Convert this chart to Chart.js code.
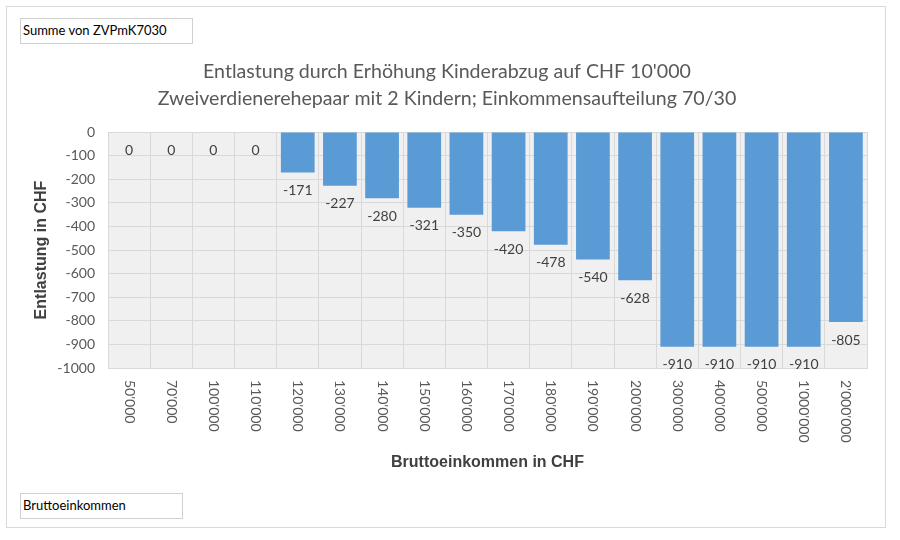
<!DOCTYPE html>
<html>
<head>
<meta charset="utf-8">
<script src="https://cdn.jsdelivr.net/npm/chart.js@4"></script>
<style>
    body { margin: 0; background: #ffffff; }
    #wrap { position: relative; width: 900px; height: 540px; }
    #frame { position: absolute; left: 6px; top: 6px; width: 880px; height: 522px; border: 1px solid #d9d9d9; box-sizing: border-box; }
    .btn { position: absolute; border: 1px solid #d0d0d0; background: #fff; font: 13px Lato, sans-serif; color: #000; padding-left: 2px; box-sizing: border-box; line-height: 23px; }
    #chart { position: absolute; left: 0; top: 0; }
</style>
</head>
<body>
<div id="wrap">
    <div id="frame"></div>
    <canvas id="chart" width="900" height="540"></canvas>
    <div class="btn" style="left:20px; top:18px; width:173px; height:26px;">Summe von ZVPmK7030</div>
    <div class="btn" style="left:20px; top:493px; width:163px; height:26px;">Bruttoeinkommen</div>
</div>
<script>
// income categories (CHF)
var incomes = ["50'000", "70'000", "100'000", "110'000", "120'000", "130'000", "140'000", "150'000",
    "160'000", "170'000", "180'000", "190'000", "200'000", "300'000", "400'000", "500'000", "1'000'000", "2'000'000"];
var relief = [0, 0, 0, 0, -171, -227, -280, -321, -350, -420, -478, -540, -628, -910, -910, -910, -910, -805];
var titleLines = ["Entlastung durch Erhöhung Kinderabzug auf CHF 10'000",
    "Zweiverdienerehepaar mit 2 Kindern; Einkommensaufteilung 70/30"];

// plot background
var plotBg = {
    id: 'plotBg',
    beforeDraw: function (chart) {
        var a = chart.chartArea, c = chart.ctx;
        c.save();
        c.fillStyle = '#f0f0f0';
        c.fillRect(a.left, a.top, a.right - a.left, a.bottom - a.top);
        c.restore();
    }
};

// value labels under each bar end
var barLabels = {
    id: 'barLabels',
    afterDatasetsDraw: function (chart) {
        var c = chart.ctx;
        var meta = chart.getDatasetMeta(0);
        c.save();
        c.font = '14px Lato, sans-serif';
        c.fillStyle = '#404040';
        c.textAlign = 'center';
        c.textBaseline = 'middle';
        meta.data.forEach(function (bar, i) {
            c.fillText(String(relief[i]), bar.x, bar.y + 18);
        });
        c.restore();
    }
};

// x tick labels rotated clockwise (read top to bottom)
var xLabels = {
    id: 'xLabels',
    afterDraw: function (chart) {
        var c = chart.ctx, sx = chart.scales.x;
        c.save();
        c.font = '14px Lato, sans-serif';
        c.fillStyle = '#595959';
        c.textAlign = 'left';
        c.textBaseline = 'middle';
        incomes.forEach(function (lbl, i) {
            c.save();
            c.translate(sx.getPixelForValue(i), sx.top + 12);
            c.rotate(Math.PI / 2);
            c.fillText(lbl, 0, 0);
            c.restore();
        });
        c.restore();
    }
};

new Chart(document.getElementById('chart').getContext('2d'), {
    type: 'bar',
    data: {
        labels: incomes,
        datasets: [{
            data: relief,
            backgroundColor: '#5b9bd5',
            categoryPercentage: 1,
            barPercentage: 0.8
        }]
    },
    options: {
        responsive: false,
        animation: false,
        layout: { padding: { left: 27, right: 33, top: 0, bottom: 0 } },
        plugins: {
            legend: { display: false },
            tooltip: { enabled: false },
            title: {
                display: true,
                text: titleLines,
                color: '#595959',
                font: { family: 'Lato', size: 19.6, weight: 'normal', lineHeight: 1.38 },
                padding: { top: 58, bottom: 20 }
            }
        },
        scales: {
            x: {
                ticks: { display: false },
                grid: { color: '#d9d9d9', drawTicks: false, offset: true },
                border: { color: '#d9d9d9' },
                title: {
                    display: true,
                    text: 'Bruttoeinkommen in CHF',
                    color: '#404040',
                    font: { family: 'Liberation Sans', size: 16, weight: 'bold' },
                    padding: { top: 0, bottom: 68 }
                },
                afterFit: function (s) { s.height = 172; }
            },
            y: {
                min: -1000,
                max: 0,
                ticks: {
                    stepSize: 100,
                    color: '#595959',
                    padding: 13,
                    font: { family: 'Lato', size: 14 },
                    callback: function (v) { return String(v); }
                },
                grid: { color: '#d9d9d9', drawTicks: false },
                border: { color: '#d9d9d9' },
                title: {
                    display: true,
                    text: 'Entlastung in CHF',
                    color: '#404040',
                    font: { family: 'Liberation Sans', size: 16, weight: 'bold' },
                    padding: { top: 5, bottom: 0 }
                },
                afterFit: function (s) { s.width = 81; }
            }
        }
    },
    plugins: [plotBg, barLabels, xLabels]
});
</script>
</body>
</html>
